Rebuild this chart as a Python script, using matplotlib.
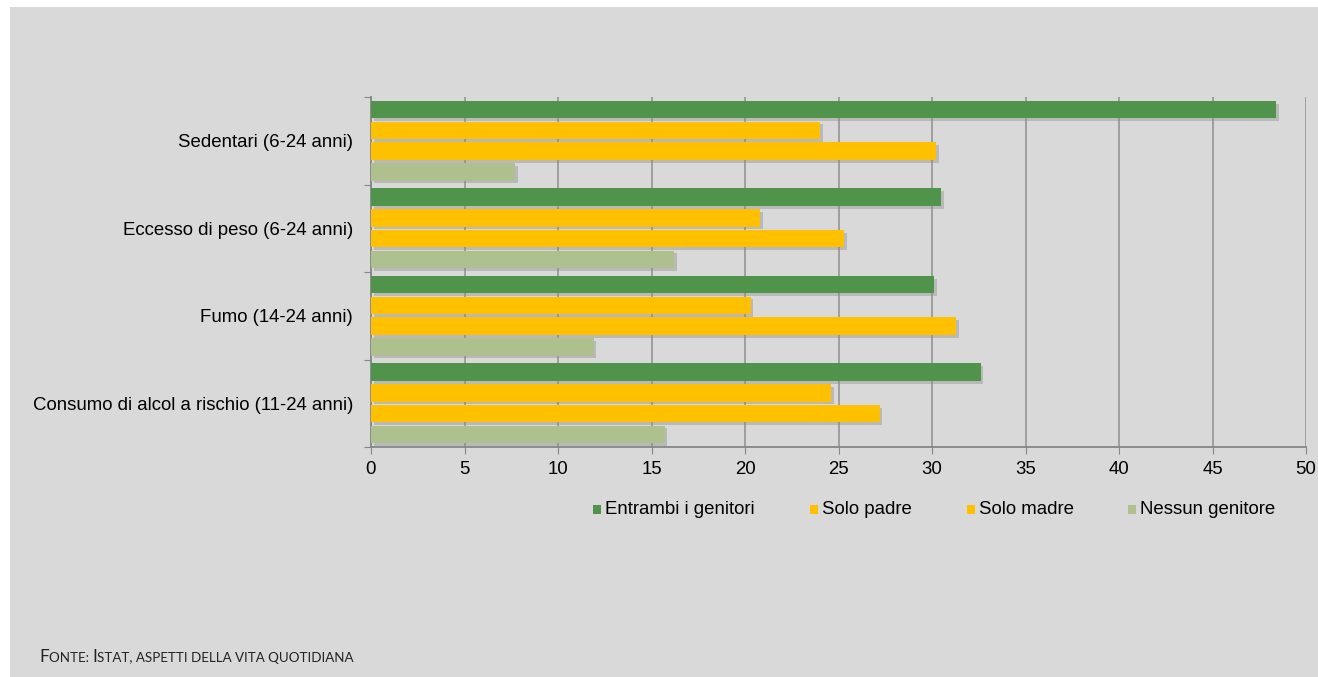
import matplotlib
matplotlib.use("Agg")
import matplotlib.pyplot as plt
import matplotlib.patheffects as pe
from matplotlib.patches import Rectangle
import numpy as np

plt.rcParams['font.family'] = ['Liberation Sans', 'DejaVu Sans']

categories = ["Sedentari (6-24 anni)", "Eccesso di peso (6-24 anni)",
              "Fumo (14-24 anni)", "Consumo di alcol a rischio (11-24 anni)"]
series_names = ["Entrambi i genitori", "Solo padre", "Solo madre", "Nessun genitore"]
entrambi = [48.4, 30.5, 30.1, 32.6]
solo_padre = [24.0, 20.8, 20.3, 24.6]
solo_madre = [30.2, 25.3, 31.3, 27.2]
nessuno = [7.7, 16.2, 11.9, 15.7]
values = [entrambi, solo_padre, solo_madre, nessuno]
colors = ["#50934A", "#FFC000", "#FFC000", "#AFC08F"]
xticks = list(range(0, 55, 5))
source = [("F", True), ("ONTE: ", False), ("I", True), ("STAT, ASPETTI DELLA VITA QUOTIDIANA", False)]

W, H = 1318, 677
FS = 13.4
fig = plt.figure(figsize=(W / 100, H / 100), dpi=100, facecolor="white")
bg = "#D9D9D9"
fig.patches.append(Rectangle((10 / W, 0), 1 - 10 / W, 1 - 7 / H, transform=fig.transFigure,
                             facecolor=bg, edgecolor="none", zorder=-10))

ax = fig.add_axes([371 / W, 1 - 447 / H, (1306 - 371) / W, (447 - 97) / H])
ax.set_facecolor(bg)

y = np.arange(len(categories))
pitch = 0.237
height = 0.2
shadow = [pe.SimplePatchShadow(offset=(2, -2), shadow_rgbFace="#8a8a8a", alpha=0.4), pe.Normal()]
for i, (vals, c) in enumerate(zip(values, colors)):
    ax.barh(y + (i - 1.5) * pitch, vals, height=height, color=c, zorder=3,
            path_effects=shadow, label=series_names[i])

ax.set_xlim(0, 50)
ax.set_ylim(len(categories) - 0.5, -0.5)
ax.set_xticks(xticks)
ax.set_xticklabels([str(t) for t in xticks], fontsize=FS)
ax.set_yticks(np.arange(len(categories) + 1) - 0.5)
ax.set_yticklabels([])
ax.set_yticks(y, minor=True)
ax.set_yticklabels(categories, minor=True, fontsize=FS)
ax.tick_params(axis="y", which="major", length=5, color="#868686", direction="out")
ax.tick_params(axis="y", which="minor", length=0, pad=13)
ax.tick_params(axis="x", length=5, color="#868686", direction="out", pad=5)
ax.grid(axis="x", color="#9a9a9a", linewidth=1.3, zorder=0)
ax.set_axisbelow(True)
for s in ["top", "right"]:
    ax.spines[s].set_visible(False)
for s in ["left", "bottom"]:
    ax.spines[s].set_color("#868686")
    ax.spines[s].set_linewidth(1.3)

# legend (manual, matching Excel placement)
leg_sq_x = [593, 810, 967, 1128]
leg_y = 509
for sx, name, c in zip(leg_sq_x, series_names, colors):
    fig.patches.append(Rectangle((sx / W, 1 - (leg_y + 4.5) / H), 8 / W, 9 / H,
                                 transform=fig.transFigure, facecolor=c, edgecolor="none"))
    fig.text((sx + 12) / W, 1 - leg_y / H, name, fontsize=FS, va="center", ha="left")

# source line in small caps
fig.canvas.draw()
r = fig.canvas.get_renderer()
x = 39
for txt, big in source:
    t = fig.text(x / W, 1 - 662 / H, txt, fontsize=12.5 if big else 9.6,
                 family=["Lato", "DejaVu Sans"], va="baseline", ha="left", color="#222222")
    bb = t.get_window_extent(renderer=r)
    x += bb.width

fig.savefig("out.png", dpi=100, facecolor=fig.get_facecolor())
